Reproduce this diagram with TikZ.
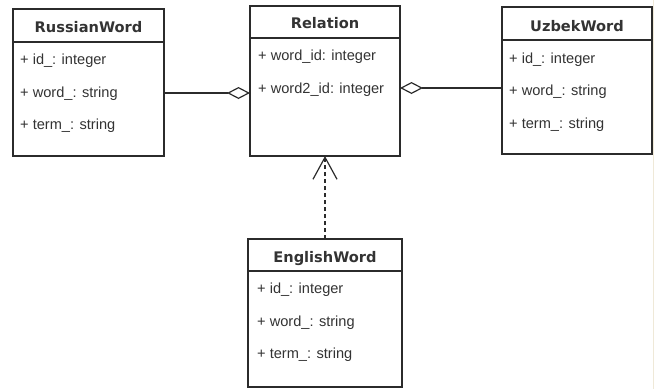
\documentclass[tikz,border=0pt]{standalone}
\usepackage{fontspec}
\setmainfont{Liberation Sans}
\newfontfamily\titlefont{DejaVu Sans}
\usetikzlibrary{arrows.meta}
\definecolor{linecol}{HTML}{2B2B2B}
\definecolor{txtcol}{HTML}{333333}
\definecolor{stripcol}{HTML}{EFE9D8}
\tikzset{
  classbox/.style={draw=linecol, line width=1.2pt, fill=white, inner sep=0pt, outer sep=0pt},
  divider/.style={draw=linecol, line width=1.2pt},
  ctitle/.style={anchor=base, inner sep=0pt, text=txtcol, font=\titlefont\bfseries\fontsize{14.6}{17}\selectfont},
  attr/.style={anchor=base west, inner sep=0pt, text=txtcol, font=\fontsize{14.6}{17}\selectfont},
  conn/.style={draw=linecol, line width=1.2pt},
  aggr/.style={conn, -{Diamond[open, length=23pt, width=12pt, line width=1.2pt, fill=white]}},
  realize/.style={conn, dash pattern=on 4pt off 3pt, -{Straight Barb[length=22pt, width=24pt, line width=1.2pt]}}
}
\begin{document}
\begin{tikzpicture}[x=1pt, y=-1pt]
\useasboundingbox (0,0) rectangle (657,389);
\fill[white] (0,0) rectangle (657,389);
\draw[stripcol, line width=1.6pt] (653.5,0) -- (653.5,389);

% RussianWord
\node[classbox, minimum width=151pt, minimum height=147pt] (rus) at (88.5,82.5) {};
\draw[divider] (rus.west |- 0,42) -- (rus.east |- 0,42);
\node[ctitle] (rust) at (88.5,32) {RussianWord};
\node[attr] (rusa1) at (20,64) {+ id\_: integer};
\node[attr] (rusa2) at (20,97) {+ word\_: string};
\node[attr] (rusa3) at (20,129) {+ term\_: string};

% Relation
\node[classbox, minimum width=150pt, minimum height=150pt] (rel) at (325,81) {};
\draw[divider] (rel.west |- 0,38) -- (rel.east |- 0,38);
\node[ctitle] (relt) at (325,28) {Relation};
\node[attr] (rela1) at (258,60) {+ word\_id: integer};
\node[attr] (rela2) at (258,93) {+ word2\_id: integer};

% UzbekWord
\node[classbox, minimum width=150pt, minimum height=147pt] (uzb) at (577,80.5) {};
\draw[divider] (uzb.west |- 0,40) -- (uzb.east |- 0,40);
\node[ctitle] (uzbt) at (577,31) {UzbekWord};
\node[attr] (uzba1) at (509,63) {+ id\_: integer};
\node[attr] (uzba2) at (509,95) {+ word\_: string};
\node[attr] (uzba3) at (509,128) {+ term\_: string};

% EnglishWord
\node[classbox, minimum width=154pt, minimum height=148pt] (eng) at (325,313) {};
\draw[divider] (eng.west |- 0,271) -- (eng.east |- 0,271);
\node[ctitle] (engt) at (325,262) {EnglishWord};
\node[attr] (enga1) at (257,293) {+ id\_: integer};
\node[attr] (enga2) at (257,326) {+ word\_: string};
\node[attr] (enga3) at (257,358) {+ term\_: string};

% connectors
\draw[aggr] (rus.east |- 0,93) -- (rel.west |- 0,93);
\draw[aggr] (uzb.west |- 0,88) -- (rel.east |- 0,88);
\draw[realize] (eng.north) -- (rel.south);
\end{tikzpicture}
\end{document}
